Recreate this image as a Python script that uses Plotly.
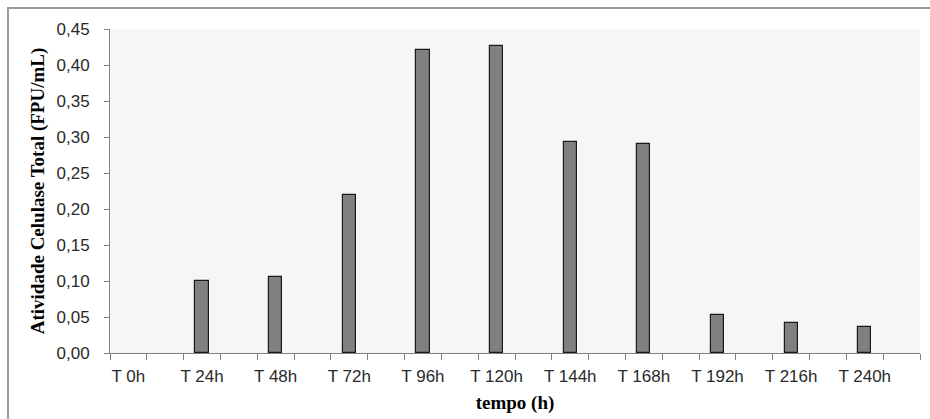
import plotly.graph_objects as go

categories = ["T 0h", "T 24h", "T 48h", "T 72h", "T 96h", "T 120h",
              "T 144h", "T 168h", "T 192h", "T 216h", "T 240h"]
values = [0.0, 0.100, 0.105, 0.219, 0.421, 0.426, 0.293, 0.290, 0.053, 0.041, 0.036]
y_ticks = [0.0, 0.05, 0.10, 0.15, 0.20, 0.25, 0.30, 0.35, 0.40, 0.45]

# each category occupies two slots on the axis (Excel style); bars sit in the even slots
positions = [2 * i for i in range(len(categories))]
n_slots = 2 * len(categories)
outline_w = [1.2 if v > 0 else 0 for v in values]

fig = go.Figure()
fig.add_trace(go.Bar(
    x=positions, y=values, width=0.36,
    marker=dict(color="#808080", line=dict(color="#1A1A1A", width=outline_w)),
    hoverinfo="skip", showlegend=False,
))

W, H = 930, 419
TICKFONT = dict(family="Liberation Sans, Arial", size=17, color="#2A2A2A")
TITLEFONT = dict(family="Liberation Serif, Times New Roman", size=19, color="#000000")
fig.update_layout(
    width=W, height=H,
    margin=dict(l=110, r=10, t=29, b=66),
    paper_bgcolor="white",
    plot_bgcolor="#F6F6F6",
    separators=", ",
    font=TICKFONT,
    bargap=0,
    xaxis=dict(
        range=[-0.5, n_slots - 0.5],
        tickmode="array", tickvals=positions, ticktext=categories,
        ticks="", showgrid=False, zeroline=False,
        showline=True, linecolor="#808080", linewidth=1,
        ticklabelstandoff=8,
        tickfont=TICKFONT,
        minor=dict(tickmode="array", tickvals=[k - 0.5 for k in range(n_slots + 1)],
                   ticks="outside", ticklen=6, tickcolor="#808080", tickwidth=1, showgrid=False),
        title=dict(text="<b>tempo (h)</b>", standoff=10, font=TITLEFONT),
        fixedrange=True,
    ),
    yaxis=dict(
        range=[0, 0.45], tickmode="array", tickvals=y_ticks,
        tickformat=".2f",
        ticks="outside", ticklen=5, tickcolor="#808080", tickwidth=1,
        showgrid=False, zeroline=False,
        showline=True, linecolor="#808080", linewidth=1,
        ticklabelstandoff=11,
        tickfont=TICKFONT,
        title=dict(text="<b>Atividade Celulase Total (FPU/mL)</b>", standoff=6, font=TITLEFONT),
        fixedrange=True,
    ),
)

# outer chart frame (left/top edges visible, right/bottom run past the image)
fig.add_shape(type="rect", xref="paper", yref="paper",
              x0=-(110 - 8) / (W - 120), x1=1 + 30 / (W - 120),
              y0=-(66 + 30) / (H - 95), y1=1 + (29 - 8) / (H - 95),
              line=dict(color="#9A9A9A", width=2), fillcolor="rgba(0,0,0,0)", layer="below")

fig.write_html("out.html")
